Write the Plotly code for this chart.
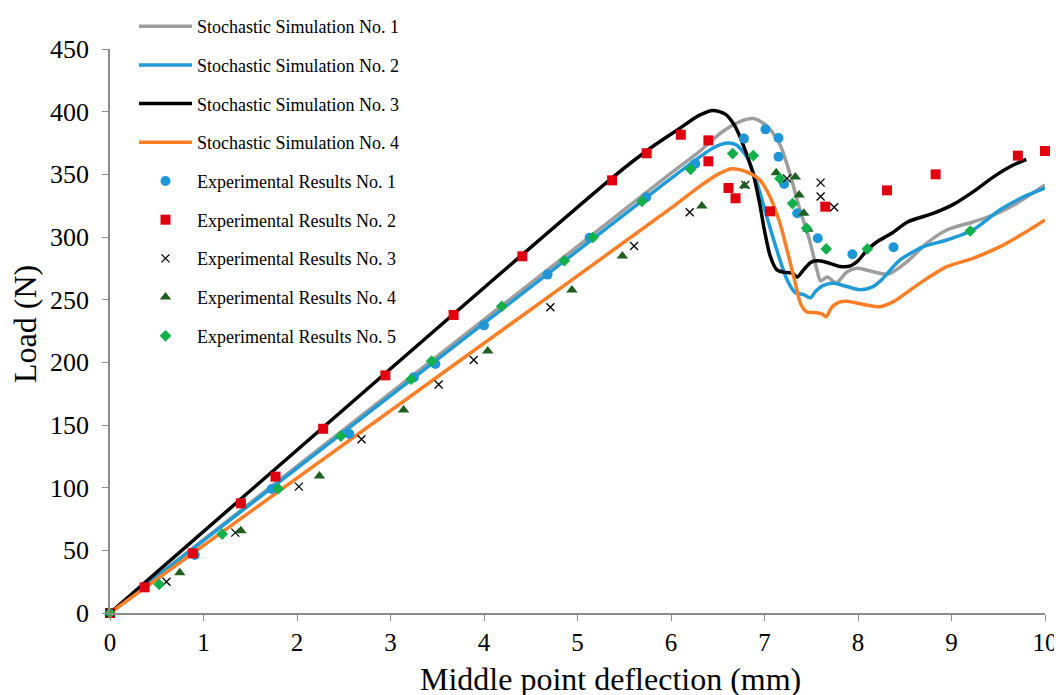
import plotly.graph_objects as go

# ---------------- data ----------------
sim1_x = [0, 6.0, 6.3, 6.55, 6.75, 6.88, 7.0, 7.1, 7.17, 7.27, 7.37, 7.48, 7.56, 7.6, 7.67, 7.77, 7.88, 7.99, 8.1, 8.235, 8.33, 8.45, 8.55, 8.735, 8.95, 9.23, 9.45, 9.7, 10.0]
sim1_y = [0, 351, 368, 384, 392.5, 394.5, 390, 382, 373, 351, 324, 298, 274, 265, 268, 263.5, 272, 275, 273.5, 271, 270.5, 276, 282, 295, 305.6, 312, 317.6, 327, 341.5]

sim2_x = [0, 5.9, 6.2, 6.45, 6.6, 6.7, 6.81, 6.92, 7.025, 7.13, 7.24, 7.33, 7.42, 7.49, 7.55, 7.62, 7.74, 7.88, 8.02, 8.15, 8.24, 8.45, 8.70, 8.95, 9.23, 9.52, 9.77, 10.0]
sim2_y = [0, 341, 358, 371, 375, 373.4, 364, 343, 316, 290, 266, 255.5, 254, 251.5, 257, 261, 263, 260.5, 258, 260, 265, 281.7, 292.3, 297.6, 305.6, 321.7, 332, 339]

sim3_x = [0, 5.4, 5.8, 6.1, 6.3, 6.45, 6.58, 6.68, 6.78, 6.88, 6.95, 7.0, 7.06, 7.13, 7.2, 7.3, 7.35, 7.42, 7.5, 7.58, 7.7, 7.81, 7.92, 8.0, 8.09, 8.2, 8.36, 8.53, 8.81, 9.02, 9.23, 9.45, 9.65, 9.8]
sim3_y = [0, 349, 372, 387, 397, 401, 398, 389, 372, 350, 326, 305, 285, 274, 272, 271, 268, 274, 280, 281, 279, 276.5, 277, 281, 289, 296, 303, 312, 319, 326, 336, 348, 357, 362]

sim4_x = [0, 5.0, 6.0, 6.3, 6.5, 6.65, 6.81, 6.95, 7.06, 7.165, 7.26, 7.33, 7.385, 7.45, 7.56, 7.62, 7.66, 7.72, 7.8, 7.88, 8.09, 8.235, 8.38, 8.66, 8.95, 9.23, 9.52, 9.80, 10.0]
sim4_y = [0, 269, 323, 340, 350, 354.5, 352, 345.5, 332, 311, 284, 263, 247, 240.4, 239.6, 238.5, 236.4, 244, 248, 248.8, 245.7, 244.4, 248.4, 263, 276.3, 283, 292.3, 304.2, 313.6]

exp1_x = [0, 0.907, 1.73, 2.56, 3.25, 3.48, 4.0, 4.68, 5.13, 5.735, 6.26, 6.78, 7.01, 7.15, 7.15, 7.21, 7.35, 7.57, 7.94, 8.38]
exp1_y = [0, 46.3, 98.9, 142.8, 188, 198.7, 229.5, 270, 299.5, 331.7, 358.5, 378.5, 385.9, 379, 364, 342.3, 319, 299, 286.3, 291.8]

exp2_x = [0, 0.37, 0.885, 1.40, 1.77, 2.28, 2.945, 3.675, 4.41, 5.37, 5.74, 6.105, 6.40, 6.40, 6.615, 6.69, 7.06, 7.65, 8.31, 8.83, 9.71, 10.0]
exp2_y = [0, 20.5, 47.6, 87.5, 108.8, 147, 189.6, 237.8, 284.6, 345.2, 366.8, 381.6, 377.1, 360.4, 339.1, 330.9, 320.5, 324.2, 337.2, 350, 364.9, 368.6]

exp3_x = [0, 0.604, 1.34, 2.02, 2.69, 3.515, 3.89, 4.71, 5.605, 6.20, 6.795, 7.24, 7.60, 7.60, 7.745]
exp3_y = [0, 25, 64.1, 100.8, 138.6, 182.3, 201.9, 243.9, 292.8, 319.8, 341.6, 346.8, 343.4, 332.3, 323.7]

exp4_x = [0, 0.746, 1.40, 2.24, 3.14, 4.04, 4.94, 5.48, 6.33, 6.785, 7.125, 7.33, 7.37, 7.42, 7.465]
exp4_y = [0, 32.2, 65.7, 109.3, 162, 209, 257.7, 284.8, 324.7, 340.8, 351.3, 347.8, 333.5, 318.9, 306.1]

exp5_x = [0, 0.526, 1.20, 1.80, 2.47, 3.22, 3.44, 4.19, 4.86, 5.165, 5.69, 6.21, 6.66, 6.88, 7.165, 7.30, 7.45, 7.66, 8.10, 9.20]
exp5_y = [0, 22.9, 63, 99.2, 141.2, 186.5, 201, 244.7, 281.1, 299.6, 328.5, 354, 366.6, 365, 346.6, 326.7, 307, 290.5, 290.5, 304.8]

x_ticks = [0, 1, 2, 3, 4, 5, 6, 7, 8, 9, 10]
y_ticks = [0, 50, 100, 150, 200, 250, 300, 350, 400, 450]

x_title = "Middle point deflection (mm)"
y_title = "Load (N)"

# ---------------- figure ----------------
FONT = "Liberation Serif, Times New Roman, serif"
W, H = 1062, 695
ML, MR, MT, MB = 102, 25, 0, 90
PLOT_TOP = 41  # figure px
paper_h = H - MT - MB
paper_w = W - ML - MR


def px_x(p):
    return (p - ML) / paper_w


def px_y(p):
    return (H - MB - p) / paper_h


fig = go.Figure()

sims = [
    ("Stochastic Simulation No. 1", sim1_x, sim1_y, "#9E9E9E"),
    ("Stochastic Simulation No. 2", sim2_x, sim2_y, "#1F9BD7"),
    ("Stochastic Simulation No. 3", sim3_x, sim3_y, "#000000"),
    ("Stochastic Simulation No. 4", sim4_x, sim4_y, "#FF7F27"),
]
for i, (name, xs, ys, col) in enumerate(sims):
    fig.add_trace(go.Scatter(
        x=xs, y=ys, mode="lines", name=name, legendgroup=f"g{i}",
        line=dict(color=col, width=3.5, shape="spline", smoothing=0.7),
        cliponaxis=False,
    ))

exps = [
    ("Experimental Results No. 1", exp1_x, exp1_y, "circle", "#1F96D6", 10),
    ("Experimental Results No. 2", exp2_x, exp2_y, "square", "#E00010", 10),
    ("Experimental Results No. 3", exp3_x, exp3_y, "x-thin", "#000000", 8),
    ("Experimental Results No. 4", exp4_x, exp4_y, "triangle-up", "#1F5F1F", 10),
    ("Experimental Results No. 5", exp5_x, exp5_y, "diamond", "#12B04B", 9),
]
for i, (name, xs, ys, sym, col, sz) in enumerate(exps):
    mk = dict(symbol=sym, color=col, size=sz)
    if sym == "x-thin":
        mk["line"] = dict(color=col, width=1.3)
    fig.add_trace(go.Scatter(
        x=xs, y=ys, mode="markers", name=name, legendgroup=f"e{i}",
        marker=mk, cliponaxis=False,
    ))

axis_common = dict(
    showgrid=False, zeroline=False, showline=True, linecolor="#8C8C8C", linewidth=1.5,
    ticks="outside", ticklen=6, tickcolor="#8C8C8C", tickwidth=1.2, automargin=False,
)

fig.update_layout(
    width=W, height=H,
    margin=dict(l=ML, r=MR, t=MT, b=MB),
    paper_bgcolor="white", plot_bgcolor="white",
    font=dict(family=FONT, color="black"),
    xaxis=dict(range=[0, 10], tickvals=x_ticks, **axis_common,
               tickfont=dict(family=FONT, size=25, color="black")),
    yaxis=dict(range=[0, 450], tickvals=y_ticks, domain=[0, px_y(PLOT_TOP)], **axis_common,
               tickfont=dict(family=FONT, size=26, color="black"), ticklabelstandoff=8),
    showlegend=True,
    legend=dict(
        x=px_x(126), y=1.0, xanchor="left", yanchor="top",
        font=dict(family=FONT, size=18, color="black"),
        bgcolor="rgba(0,0,0,0)", tracegroupgap=12.3, itemwidth=53,
        traceorder="grouped", maxheight=650,
    ),
    annotations=[
        dict(text=x_title, xref="paper", yref="paper", x=px_x(602), y=px_y(671),
             xanchor="center", yanchor="middle", showarrow=False,
             font=dict(family=FONT, size=32, color="black")),
        dict(text=y_title, xref="paper", yref="paper", x=px_x(17), y=px_y(316),
             xanchor="center", yanchor="middle", showarrow=False, textangle=-90,
             font=dict(family=FONT, size=32, color="black")),
    ],
)

fig.write_html("out.html")
